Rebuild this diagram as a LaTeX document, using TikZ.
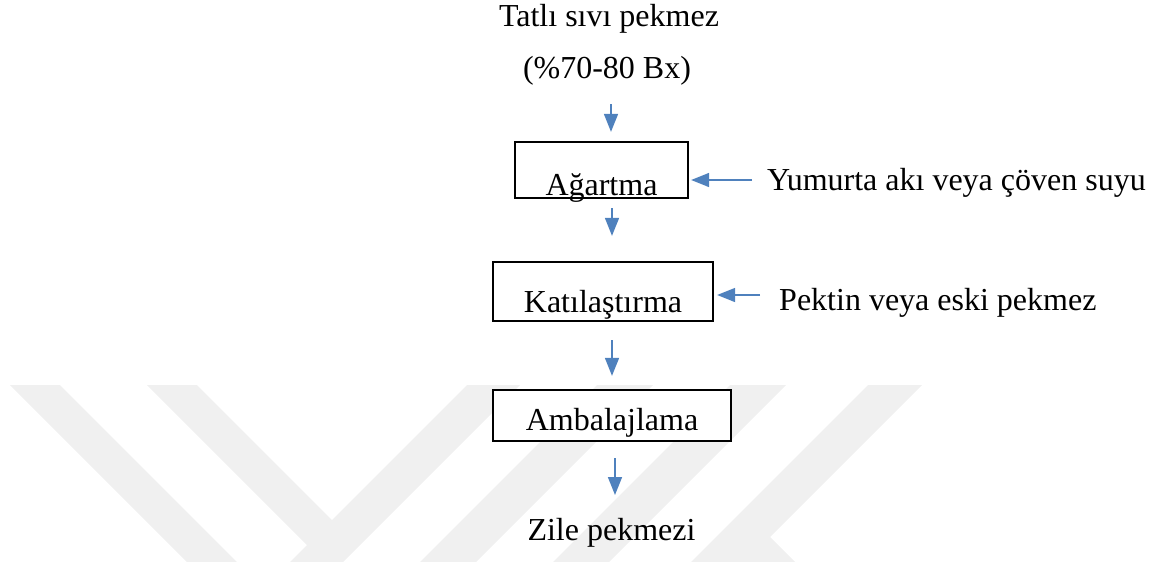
\documentclass[tikz,border=0pt]{standalone}
\usepackage{fontspec}
\setmainfont{Liberation Serif}
\usetikzlibrary{arrows.meta}
\definecolor{flowblue}{RGB}{79,129,189}
\definecolor{wmgray}{RGB}{240,240,240}
\begin{document}
\begin{tikzpicture}[x=1pt,y=-1pt,
  every node/.style={font=\fontsize{32}{38}\selectfont, inner sep=0pt},
  lbl/.style={anchor=base},
  sidelbl/.style={anchor=base west},
  stage/.style={draw=black, line width=2.3pt, fill=white, align=center},
  flow/.style={draw=flowblue, line width=1.6pt, -{Triangle[width=14pt,length=18pt]}},
  wmark/.style={fill=wmgray, draw=none}]
\useasboundingbox (0,0) rectangle (1165,562);

% background emblem stripes
\fill[wmark] (10,385) -- (60,385) -- (237,562) -- (187,562) -- cycle;
\fill[wmark] (147,385) -- (197,385) -- (332,520) -- (467,385) -- (520,385)
  -- (343,562) -- (290,562) -- (307,545) -- cycle;
\fill[wmark] (597,385) -- (653,385) -- (476,562) -- (420,562) -- cycle;
\fill[wmark] (730,385) -- (786,385) -- (609,562) -- (553,562) -- cycle;
\fill[wmark] (868,385) -- (922,385) -- (770,537) -- (795,562) -- (691,562) -- cycle;

% texts
\node[lbl] (t0) at (609,26) {Tatlı sıvı pekmez};
\node[lbl] (t1) at (607,78) {(\%70-80 Bx)};
\node[sidelbl] (t2) at (767,190) {Yumurta akı veya çöven suyu};
\node[sidelbl] (t3) at (779,310) {Pektin veya eski pekmez};
\node[lbl] (t4) at (611.5,540) {Zile pekmezi};

% process stages
\node[stage, minimum width=173pt, text height=53pt, text depth=3pt] (b1) at (601.5,170) {Ağartma};
\node[stage, minimum width=220pt, text height=50pt, text depth=9pt] (b2) at (603,291.5) {Katılaştırma};
\node[stage, minimum width=238pt, text height=40pt, text depth=11pt] (b3) at (612,415.5) {Ambalajlama};

% main flow
\coordinate (s1) at (611,104);
\coordinate (x2) at (612,0);
\coordinate (x3) at (612,0);
\coordinate (x4) at (615,0);
\coordinate (e4) at (615,495);
\draw[flow, shorten >=9pt] (s1) -- (s1 |- b1.north);
\draw[flow, shorten <=9pt, shorten >=25pt] (x2 |- b1.south) -- (x2 |- b2.north);
\draw[flow, shorten <=18pt, shorten >=13pt] (x3 |- b2.south) -- (x3 |- b3.north);
\draw[flow, shorten <=16pt] (x4 |- b3.south) -- (e4);

% additives
\coordinate (y1) at (0,180);
\coordinate (y2) at (0,295);
\draw[flow, shorten <=15pt, shorten >=2pt] (t2.west |- y1) -- (b1.east |- y1);
\draw[flow, shorten <=19pt, shorten >=3pt] (t3.west |- y2) -- (b2.east |- y2);
\end{tikzpicture}
\end{document}
